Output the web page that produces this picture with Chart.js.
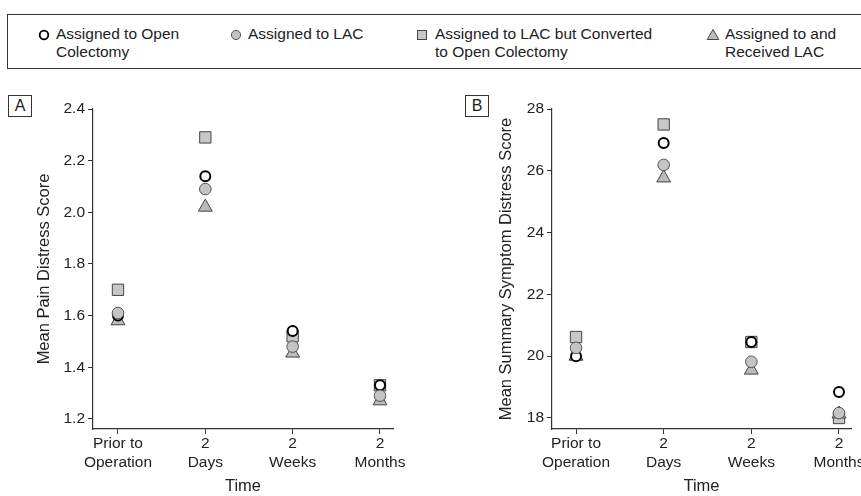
<!DOCTYPE html>
<html>
<head>
<meta charset="utf-8">
<script src="https://cdn.jsdelivr.net/npm/chart.js@4"></script>
<style>
  body { margin: 0; background: #fff; font-family: 'Liberation Sans', Arial, sans-serif; color: #222; }
  #page { position: relative; width: 861px; height: 496px; overflow: hidden; }
  #legend { position: absolute; left: 7px; top: 14px; width: 900px; height: 53px;
            border: 1px solid #333; border-right: none; }
  .item { position: absolute; top: 10px; font-size: 15.5px; line-height: 18px; }
  .mark { position: absolute; }
  .panel { position: absolute; top: 95px; width: 22px; height: 20px; border: 1px solid #333;
           font-size: 16px; line-height: 20px; text-align: center; }
  canvas { position: absolute; top: 80px; }
</style>
</head>
<body>
<div id="page">
  <div id="legend">
    <svg class="mark" style="left:30px;top:14px" width="12" height="12"><circle cx="6" cy="6" r="4.3" fill="#fff" stroke="#000" stroke-width="1.8"/></svg>
    <div class="item" style="left:48px">Assigned to Open<br>Colectomy</div>
    <svg class="mark" style="left:222px;top:14px" width="12" height="12"><circle cx="6" cy="6" r="4.6" fill="#c4c4c4" stroke="#555" stroke-width="1"/></svg>
    <div class="item" style="left:240px">Assigned to LAC</div>
    <svg class="mark" style="left:408px;top:14px" width="12" height="12"><rect x="1.5" y="1.5" width="9" height="9" fill="#c8c8c8" stroke="#444" stroke-width="1"/></svg>
    <div class="item" style="left:427px">Assigned to LAC but Converted<br>to Open Colectomy</div>
    <svg class="mark" style="left:698px;top:13px" width="14" height="13"><polygon points="7,1.5 12.8,11.5 1.2,11.5" fill="#bbb" stroke="#444" stroke-width="1"/></svg>
    <div class="item" style="left:717px">Assigned to and<br>Received LAC</div>
  </div>
  <div class="panel" style="left:8px">A</div>
  <div class="panel" style="left:465px">B</div>
  <canvas id="chartA" width="430" height="416" style="left:0px"></canvas>
  <canvas id="chartB" width="431" height="416" style="left:430px"></canvas>
</div>
<script>
// time points (x axis)
const categories = [['Prior to', 'Operation'], ['2', 'Days'], ['2', 'Weeks'], ['2', 'Months']];
const seriesNames = ['Assigned to Open Colectomy', 'Assigned to LAC',
  'Assigned to LAC but Converted to Open Colectomy', 'Assigned to and Received LAC'];

// panel A: mean pain distress score
const painOpen = [1.60, 2.14, 1.54, 1.33];
const painLAC = [1.61, 2.09, 1.48, 1.29];
const painConverted = [1.70, 2.29, 1.52, 1.33];
const painReceived = [1.58, 2.02, 1.455, 1.27];
const painTicks = [1.2, 1.4, 1.6, 1.8, 2.0, 2.2, 2.4];

// panel B: mean summary symptom distress score
const symOpen = [20.0, 26.9, 20.46, 18.84];
const symLAC = [20.27, 26.19, 19.82, 18.16];
const symConverted = [20.62, 27.5, 20.46, 18.0];
const symReceived = [20.0, 25.77, 19.55, 18.13];
const symTicks = [18, 20, 22, 24, 26, 28];

const font = 'Liberation Sans';
const ink = '#333';

function pts(arr) {
  return arr.map((v, i) => ({x: i, y: v}));
}

function makeSets(open, lac, conv, recv) {
  return [
    {label: seriesNames[0], data: pts(open), order: 1, pointStyle: 'circle', pointRadius: 5,
     backgroundColor: '#fff', borderColor: '#000', borderWidth: 2},
    {label: seriesNames[1], data: pts(lac), order: 0, pointStyle: 'circle', pointRadius: 5.8,
     backgroundColor: '#c4c4c4', borderColor: '#555', borderWidth: 1},
    {label: seriesNames[2], data: pts(conv), order: 3, pointStyle: 'rect', pointRadius: 8,
     backgroundColor: '#c8c8c8', borderColor: '#444', borderWidth: 1},
    {label: seriesNames[3], data: pts(recv), order: 2, pointStyle: 'triangle', pointRadius: 8,
     backgroundColor: '#bbb', borderColor: '#444', borderWidth: 1}
  ];
}

function makeChart(id, sets, yTitle, yTicks, yMin, yMax, decimals, xMin, xMax, pad, yWidth) {
  new Chart(document.getElementById(id), {
    type: 'scatter',
    data: {datasets: sets},
    options: {
      responsive: false,
      animation: false,
      layout: {padding: pad},
      plugins: {legend: {display: false}, tooltip: {enabled: false}},
      scales: {
        x: {
          type: 'linear',
          min: xMin,
          max: xMax,
          afterBuildTicks: s => { s.ticks = categories.map((c, i) => ({value: i})); },
          afterFit: s => { s.height = 67; s.paddingLeft = 0; s.paddingRight = 0; },
          ticks: {
            callback: v => categories[v],
            color: '#222', padding: 0, maxRotation: 0, autoSkip: false,
            font: {family: font, size: 15.5, lineHeight: 1.22}
          },
          grid: {drawOnChartArea: false, tickLength: 5, color: ink},
          border: {color: ink, width: 1.2},
          title: {display: true, text: 'Time', color: '#222', padding: {top: 0, bottom: 0},
                  font: {family: font, size: 16.5}}
        },
        y: {
          min: yMin,
          max: yMax,
          afterBuildTicks: s => { s.ticks = yTicks.map(v => ({value: v})); },
          afterFit: s => { s.width = yWidth; s.paddingTop = 0; s.paddingBottom = 0; },
          ticks: {
            callback: v => v.toFixed(decimals),
            color: '#222', padding: 3,
            font: {family: font, size: 15.5}
          },
          grid: {drawOnChartArea: false, tickLength: 5, color: ink},
          border: {color: ink, width: 1.2},
          title: {display: true, text: yTitle, color: '#222', padding: {top: 5, bottom: 4},
                  font: {family: font, size: 16.5}}
        }
      }
    }
  });
}

makeChart('chartA', makeSets(painOpen, painLAC, painConverted, painReceived),
  'Mean Pain Distress Score', painTicks, 1.161, 2.4, 1, -0.286, 3.149,
  {left: 30, top: 29, right: 37, bottom: 0}, 63);

makeChart('chartB', makeSets(symOpen, symLAC, symConverted, symReceived),
  'Mean Summary Symptom Distress Score', symTicks, 17.644, 28, 0, -0.274, 3.137,
  {left: 62, top: 29, right: 10, bottom: 0}, 60);
</script>
</body>
</html>
